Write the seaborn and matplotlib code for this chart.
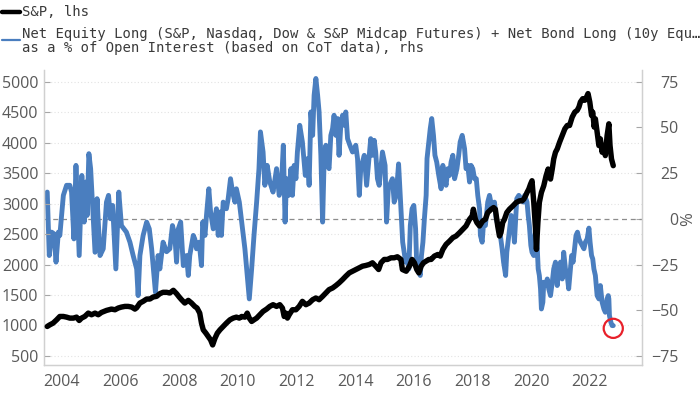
import pandas as pd
import matplotlib
matplotlib.use("Agg")
import matplotlib.pyplot as plt
import seaborn as sns
from matplotlib.lines import Line2D

# S&P 500 level (lhs)
spx_year = [2003.50, 2003.59, 2003.70, 2003.82, 2003.93, 2004.05, 2004.16, 2004.27, 2004.39, 2004.50,
            2004.59, 2004.67, 2004.78, 2004.90, 2005.01, 2005.13, 2005.24, 2005.35, 2005.52, 2005.69,
            2005.81, 2005.92, 2006.03, 2006.15, 2006.26, 2006.38, 2006.49, 2006.55, 2006.66, 2006.77,
            2006.89, 2007.00, 2007.11, 2007.23, 2007.34, 2007.45, 2007.57, 2007.68, 2007.80, 2007.91,
            2008.00, 2008.08, 2008.19, 2008.31, 2008.42, 2008.53, 2008.61, 2008.70, 2008.76, 2008.82,
            2008.91, 2008.99, 2009.07, 2009.14, 2009.22, 2009.30, 2009.39, 2009.50, 2009.61, 2009.73,
            2009.84, 2009.95, 2010.05, 2010.13, 2010.24, 2010.32, 2010.39, 2010.47, 2010.55, 2010.64,
            2010.75, 2010.86, 2010.98, 2011.09, 2011.20, 2011.32, 2011.43, 2011.52, 2011.58, 2011.64,
            2011.69, 2011.75, 2011.86, 2011.98, 2012.09, 2012.20, 2012.32, 2012.43, 2012.55, 2012.66,
            2012.77, 2012.89, 2013.00, 2013.11, 2013.23, 2013.34, 2013.45, 2013.57, 2013.68, 2013.80,
            2013.91, 2014.02, 2014.14, 2014.25, 2014.36, 2014.48, 2014.59, 2014.70, 2014.80, 2014.88,
            2014.99, 2015.10, 2015.22, 2015.33, 2015.44, 2015.56, 2015.61, 2015.74, 2015.85, 2015.94,
            2016.02, 2016.10, 2016.17, 2016.25, 2016.33, 2016.42, 2016.51, 2016.59, 2016.70, 2016.82,
            2016.90, 2016.99, 2017.10, 2017.22, 2017.33, 2017.44, 2017.56, 2017.67, 2017.78, 2017.90,
            2017.99, 2018.03, 2018.10, 2018.15, 2018.24, 2018.35, 2018.44, 2018.52, 2018.64, 2018.72,
            2018.78, 2018.86, 2018.92, 2018.97, 2019.03, 2019.09, 2019.17, 2019.26, 2019.38, 2019.49,
            2019.60, 2019.69, 2019.75, 2019.81, 2019.86, 2019.92, 2019.98, 2020.03, 2020.09, 2020.15,
            2020.18, 2020.23, 2020.28, 2020.35, 2020.43, 2020.51, 2020.58, 2020.66, 2020.72, 2020.77,
            2020.83, 2020.89, 2020.97, 2021.06, 2021.15, 2021.23, 2021.31, 2021.40, 2021.49, 2021.57,
            2021.63, 2021.68, 2021.76, 2021.83, 2021.89, 2021.94, 2022.00, 2022.06, 2022.10, 2022.15,
            2022.19, 2022.25, 2022.31, 2022.36, 2022.42, 2022.48, 2022.53, 2022.59, 2022.65, 2022.69,
            2022.74, 2022.80]
spx_level = [984, 1011, 1039, 1093, 1148, 1148, 1137, 1121, 1121, 1137,
             1082, 1121, 1148, 1203, 1176, 1203, 1176, 1214, 1247, 1269,
             1258, 1286, 1302, 1313, 1313, 1302, 1269, 1291, 1368, 1396,
             1434, 1434, 1467, 1478, 1522, 1544, 1544, 1533, 1577, 1522,
             1467, 1423, 1368, 1412, 1368, 1313, 1286, 1203, 1039, 929,
             874, 819, 764, 681, 791, 874, 929, 984, 1039, 1093,
             1121, 1137, 1121, 1148, 1137, 1203, 1121, 1066, 1093, 1121,
             1176, 1231, 1269, 1313, 1341, 1313, 1341, 1286, 1148, 1203,
             1121, 1176, 1258, 1258, 1313, 1396, 1341, 1368, 1423, 1451,
             1423, 1478, 1533, 1588, 1615, 1654, 1698, 1753, 1808, 1863,
             1890, 1918, 1945, 1973, 1984, 2000, 2028, 1973, 1918, 2028,
             2083, 2083, 2110, 2110, 2127, 2083, 1918, 1890, 1973, 2083,
             2028, 1918, 1863, 1973, 2028, 2055, 2083, 2083, 2138, 2165,
             2138, 2247, 2330, 2385, 2440, 2467, 2522, 2577, 2632, 2742,
             2797, 2907, 2742, 2687, 2632, 2714, 2742, 2852, 2907, 2934,
             2907, 2632, 2467, 2522, 2687, 2742, 2852, 2907, 2962, 3017,
             3044, 3044, 3072, 3127, 3182, 3237, 3319, 3374, 3017, 2577,
             2247, 2687, 3017, 3182, 3291, 3456, 3566, 3401, 3566, 3731,
             3841, 3896, 4006, 4116, 4225, 4280, 4280, 4418, 4500, 4528,
             4583, 4665, 4720, 4693, 4748, 4803, 4665, 4445, 4500, 4253,
             4390, 4171, 3951, 4061, 3841, 3951, 3786, 4116, 4308, 3951,
             3731, 3621]

# Net equity + bond long, % of open interest (rhs)
pos_year = [2003.50, 2003.57, 2003.65, 2003.73, 2003.80, 2003.88, 2003.93, 2004.05, 2004.16, 2004.27,
            2004.33, 2004.41, 2004.48, 2004.59, 2004.68, 2004.76, 2004.82, 2004.86, 2004.92, 2004.98,
            2005.13, 2005.20, 2005.30, 2005.41, 2005.52, 2005.59, 2005.66, 2005.73, 2005.84, 2005.94,
            2006.03, 2006.20, 2006.32, 2006.43, 2006.55, 2006.60, 2006.66, 2006.77, 2006.89, 2006.98,
            2007.06, 2007.19, 2007.28, 2007.34, 2007.45, 2007.57, 2007.68, 2007.77, 2007.85, 2007.91,
            2007.97, 2008.05, 2008.14, 2008.25, 2008.31, 2008.36, 2008.48, 2008.53, 2008.59, 2008.68,
            2008.76, 2008.80, 2008.88, 2008.93, 2009.01, 2009.07, 2009.16, 2009.27, 2009.33, 2009.39,
            2009.44, 2009.50, 2009.61, 2009.67, 2009.75, 2009.82, 2009.90, 2009.95, 2010.05, 2010.13,
            2010.24, 2010.32, 2010.39, 2010.47, 2010.55, 2010.64, 2010.72, 2010.77, 2010.86, 2010.92,
            2011.00, 2011.09, 2011.20, 2011.32, 2011.41, 2011.49, 2011.55, 2011.61, 2011.66, 2011.73,
            2011.81, 2011.86, 2011.92, 2011.98, 2012.03, 2012.11, 2012.20, 2012.30, 2012.38, 2012.43,
            2012.49, 2012.55, 2012.60, 2012.66, 2012.72, 2012.77, 2012.83, 2012.89, 2012.94, 2013.00,
            2013.06, 2013.11, 2013.17, 2013.23, 2013.28, 2013.34, 2013.40, 2013.45, 2013.51, 2013.57,
            2013.63, 2013.68, 2013.74, 2013.82, 2013.91, 2014.02, 2014.08, 2014.14, 2014.19, 2014.31,
            2014.39, 2014.48, 2014.53, 2014.59, 2014.65, 2014.70, 2014.76, 2014.82, 2014.93, 2015.02,
            2015.07, 2015.13, 2015.22, 2015.27, 2015.33, 2015.40, 2015.48, 2015.56, 2015.62, 2015.72,
            2015.76, 2015.83, 2015.88, 2015.94, 2016.00, 2016.06, 2016.10, 2016.17, 2016.22, 2016.26,
            2016.31, 2016.36, 2016.42, 2016.45, 2016.51, 2016.56, 2016.61, 2016.67, 2016.72, 2016.78,
            2016.85, 2016.93, 2016.99, 2017.05, 2017.10, 2017.16, 2017.22, 2017.27, 2017.33, 2017.39,
            2017.47, 2017.53, 2017.58, 2017.65, 2017.73, 2017.78, 2017.84, 2017.90, 2017.95, 2018.01,
            2018.07, 2018.13, 2018.18, 2018.24, 2018.27, 2018.33, 2018.38, 2018.44, 2018.52, 2018.58,
            2018.67, 2018.75, 2018.81, 2018.90, 2018.95, 2019.01, 2019.06, 2019.13, 2019.17, 2019.24,
            2019.32, 2019.38, 2019.43, 2019.51, 2019.58, 2019.66, 2019.74, 2019.78, 2019.86, 2019.90,
            2019.94, 2019.99, 2020.03, 2020.09, 2020.13, 2020.17, 2020.20, 2020.24, 2020.28, 2020.32,
            2020.35, 2020.40, 2020.43, 2020.49, 2020.55, 2020.60, 2020.66, 2020.72, 2020.77, 2020.83,
            2020.89, 2020.94, 2021.00, 2021.06, 2021.11, 2021.17, 2021.23, 2021.28, 2021.34, 2021.38,
            2021.43, 2021.49, 2021.53, 2021.58, 2021.63, 2021.68, 2021.74, 2021.80, 2021.85, 2021.91,
            2021.97, 2022.01, 2022.06, 2022.10, 2022.14, 2022.19, 2022.25, 2022.31, 2022.36, 2022.42,
            2022.48, 2022.53, 2022.59, 2022.63, 2022.65, 2022.67, 2022.72, 2022.76, 2022.80]
pos_pct = [14.6, -20.1, -7.3, -8.2, -23.7, -7.3, -9.1, 12.8, 18.3, 18.3,
           14.6, -11.0, 29.2, -20.1, 23.7, -1.8, 20.1, 1.8, 35.6, 27.4,
           -18.3, 11.0, -20.1, -16.4, 9.1, 12.8, 0.0, 7.3, -27.4, 14.6,
           -3.7, -7.3, -12.8, -20.1, -27.4, -42.0, -20.1, -9.1, -1.8, -5.5,
           -16.4, -40.2, -20.1, -27.4, -12.8, -18.0, -16.4, -3.7, -9.1, -23.7,
           -5.5, -1.8, -25.6, -20.1, -31.0, -20.1, -9.1, -11.0, -16.4, -12.8,
           -25.6, -1.8, -9.1, 1.8, 16.4, 3.7, -5.5, 5.5, -9.1, 3.7,
           -9.1, 9.1, 5.5, 11.0, 21.9, 14.6, 9.1, 16.4, 9.1, -1.8,
           -16.4, -31.0, -43.8, -27.4, -9.1, 9.1, 27.4, 47.5, 36.5, 18.3,
           29.2, 20.1, 14.6, 27.4, 12.8, 20.1, 40.2, -1.8, 21.9, 12.8,
           27.4, 12.8, 29.2, 21.9, 36.5, 51.1, 42.0, 23.7, 32.9, 18.3,
           58.4, 45.6, 67.5, 76.7, 67.5, 58.4, 34.7, -1.8, 31.0, 40.2,
           29.2, 27.4, 45.6, 49.3, 56.6, 45.6, 54.8, 34.7, 51.1, 56.6,
           51.1, 58.4, 43.8, 40.2, 36.5, 40.2, 32.9, 12.8, 27.4, 34.7,
           18.3, 34.7, 43.8, 34.7, 42.9, 36.5, 21.9, 18.3, 36.5, 29.2,
           -1.8, 16.4, 20.1, 21.9, 9.1, 12.8, 30.0, 5.0, -12.8, -23.7,
           -20.1, -27.4, -3.7, 5.5, 7.3, -5.5, -25.6, -29.2, -31.0, -20.1,
           -12.8, 0.0, 12.8, 32.9, 42.0, 49.3, 54.8, 45.6, 34.7, 31.0,
           23.7, 16.4, 29.2, 21.9, 18.3, 27.4, 23.7, 31.0, 34.7, 21.9,
           27.4, 34.7, 42.0, 45.6, 38.3, 27.4, 29.2, 20.1, 29.2, 27.4,
           21.9, 21.9, 12.8, 5.5, -9.1, -12.8, -1.8, -3.7, 9.1, 12.8,
           5.5, 9.1, 0.0, -5.5, -9.1, -16.4, -23.7, -31.0, -18.3, -9.1,
           1.8, -1.8, -12.8, 11.0, 12.8, 11.0, 9.1, 12.8, 9.1, 1.8,
           -3.7, -14.6, -18.3, -20.1, -9.1, -5.5, -12.8, -27.4, -31.0, -38.3,
           -49.3, -45.6, -34.7, -36.5, -32.9, -38.3, -42.0, -34.7, -27.4, -23.7,
           -36.5, -27.4, -23.7, -32.9, -18.3, -27.4, -31.0, -38.3, -27.4, -20.1,
           -23.7, -14.6, -9.1, -7.3, -11.0, -12.8, -14.6, -16.4, -12.8, -11.0,
           -5.1, -12.8, -20.1, -21.9, -27.4, -31.0, -42.0, -43.8, -36.5, -45.6,
           -49.3, -51.1, -43.8, -42.0, -43.8, -52.9, -56.6, -58.4, -58.4]

x_ticks = list(range(2004, 2023, 2))
lhs_ticks = list(range(500, 5001, 500))
rhs_ticks = [-75, -50, -25, 0, 25, 50, 75]

label_spx = "S&P, lhs"
label_pos_1 = "Net Equity Long (S&P, Nasdaq, Dow & S&P Midcap Futures) + Net Bond Long (10y Equ\u2026"
label_pos_2 = "as a % of Open Interest (based on CoT data), rhs"

sns.set_style("white")
plt.rcParams['font.family'] = ['Open Sans', 'DejaVu Sans']

grey_txt = '#595959'
spine_col = '#d0d0d0'
blue = '#4a7ebf'

spx = pd.DataFrame({'year': spx_year, 'level': spx_level})
pos = pd.DataFrame({'year': pos_year, 'pct': pos_pct})

fig = plt.figure(figsize=(7, 3.94), dpi=100)
ax = fig.add_axes([44 / 700, 29 / 394, 598 / 700, 295 / 394])
ax2 = ax.twinx()
# keep the S&P line on top of the positioning line
ax2.set_zorder(0)
ax.set_zorder(1)
ax.patch.set_visible(False)

lhs_lim = (352, 5190)
ax.set_ylim(*lhs_lim)
ax2.set_ylim((lhs_lim[0] - 2750) / 30, (lhs_lim[1] - 2750) / 30)
ax.set_xlim(2003.39, 2023.78)

# dotted grid at the lhs levels, dashed zero line (drawn under the blue series)
for v in lhs_ticks:
    ax2.axhline((v - 2750) / 30, color='#e3e3e3', lw=0.8, ls=(0, (1, 2)), zorder=0)
ax2.axhline(0, color='#8c8c8c', lw=0.9, ls=(0, (4, 3)), zorder=1)

sns.lineplot(data=pos, x='year', y='pct', ax=ax2, color=blue, lw=3.5,
             estimator=None, sort=False, zorder=2)
sns.lineplot(data=spx, x='year', y='level', ax=ax, color='black', lw=3.9,
             estimator=None, sort=False, zorder=3)

# red circle on the latest reading
ax2.scatter([pos_year[-1]], [pos_pct[-1] - 1.5], s=190, facecolors='none',
            edgecolors='#e8202a', linewidths=1.6, zorder=4)

ax.set_xticks(x_ticks)
ax.set_yticks(lhs_ticks)
ax2.set_yticks(rhs_ticks)
ax.set_xlabel('')
ax.set_ylabel('')
ax2.set_xlabel('')
ax2.set_ylabel('%', rotation=90, color=grey_txt, fontsize=12)
ax2.yaxis.set_label_coords((688 - 44) / 598, (365 - 219) / 295)
ax2.yaxis.label.set_va('center')
ax2.yaxis.label.set_ha('center')

ax.tick_params(axis='x', direction='out', length=4.5, width=0.8, color='#a6a6a6',
               labelcolor=grey_txt, labelsize=11.5, pad=2)
ax.tick_params(axis='y', direction='in', length=4.5, width=0.8, color='#a6a6a6',
               labelcolor=grey_txt, labelsize=11.5, pad=4)
ax2.tick_params(axis='y', direction='in', length=4.5, width=0.8, color='#a6a6a6',
                labelcolor=grey_txt, labelsize=11.5, pad=26)
for t in ax2.get_yticklabels():
    t.set_ha('right')

for a in (ax, ax2):
    a.spines['top'].set_visible(False)
    for s in ('left', 'right', 'bottom'):
        a.spines[s].set_color(spine_col)
        a.spines[s].set_linewidth(0.9)

# legend block at the top
mono = ['DejaVu Sans Mono']
txt_col = '#3a3a3a'
fig.add_artist(Line2D([2 / 700, 20 / 700], [1 - 12 / 394] * 2, color='black', lw=3.2))
fig.add_artist(Line2D([2 / 700, 20 / 700], [1 - 40 / 394] * 2, color=blue, lw=1.6))
fig.text(22 / 700, 1 - 12 / 394, label_spx, family=mono, fontsize=10, color=txt_col, va='center')
fig.text(22 / 700, 1 - 34 / 394, label_pos_1, family=mono, fontsize=10, color=txt_col, va='center')
fig.text(22 / 700, 1 - 48 / 394, label_pos_2, family=mono, fontsize=10, color=txt_col, va='center')

fig.savefig('out.png', dpi=100)
